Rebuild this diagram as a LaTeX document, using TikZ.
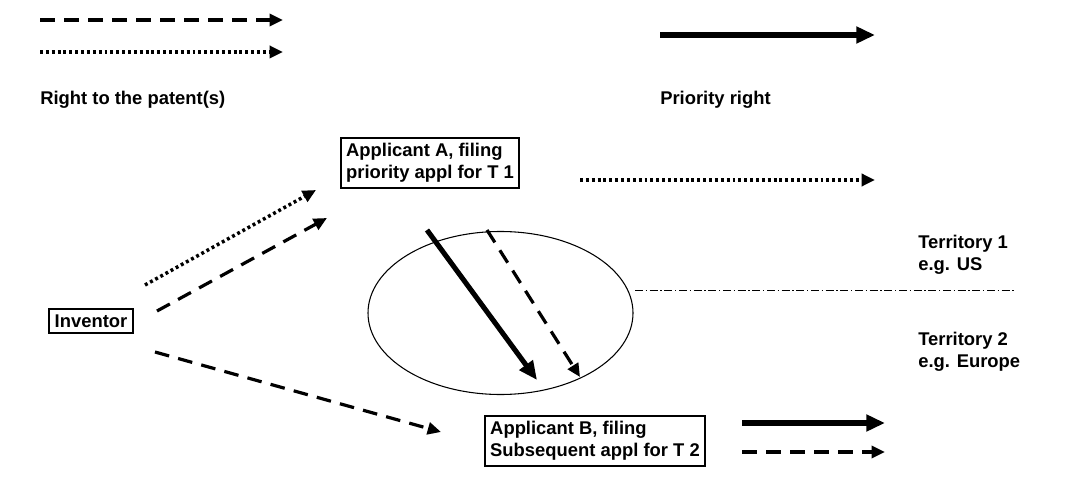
\documentclass[tikz,border=0pt]{standalone}
\usepackage{fontspec}
\setmainfont{Liberation Sans}
\usetikzlibrary{arrows.meta,shapes.geometric}
\begin{document}
\begin{tikzpicture}[x=0.75pt,y=-0.75pt,
  box/.style={draw,line width=1.6pt,align=left,font=\bfseries\fontsize{13.8}{16.5}\selectfont,inner sep=4pt},
  lbl/.style={font=\bfseries\fontsize{13.8}{16.5}\selectfont,align=left},
  dsh/.style={line width=2.4pt,dash pattern=on 11pt off 7pt,-{Triangle[length=10pt,width=9pt]}},
  dot/.style={line width=2.6pt,dash pattern=on 2.2pt off 2.2pt,-{Triangle[length=10pt,width=9pt]}},
  thick/.style={line width=3.8pt,-{Triangle[length=14pt,width=12pt]}}]
\useasboundingbox (0,0) rectangle (1080,495);
\coordinate (l1s) at (40,20); \coordinate (l1e) at (283,20);
\coordinate (l2s) at (40,52); \coordinate (l2e) at (283,52);
\coordinate (l3s) at (660,35); \coordinate (l3e) at (875,35);
\draw[dsh] (l1s) -- (l1e);
\draw[dot] (l2s) -- (l2e);
\draw[thick] (l3s) -- (l3e);
\node[lbl,anchor=west,inner sep=0] (rp) at (40,100) {Right to the patent(s)};
\node[lbl,anchor=west,inner sep=0] (pr) at (660,100) {Priority right};
\node[box] (A) at (430,163) {Applicant A, filing\\priority appl for T 1};
\node[box] (inv) at (91,321) {Inventor};
\node[box] (B) at (595,441) {Applicant B, filing\\Subsequent appl for T 2};
\node[draw,ellipse,line width=0.8pt,minimum width=265pt*0.75,minimum height=163pt*0.75,inner sep=0] (E) at (500.5,313) {};
\coordinate (t1s) at (427,230); \coordinate (t1e) at (537,380);
\coordinate (t2s) at (487,230); \coordinate (t2e) at (580,377);
\draw[thick] (t1s) -- (t1e);
\draw[dsh] (t2s) -- (t2e);
\coordinate (a1) at (145,285); \coordinate (a2) at (316,190);
\coordinate (b1) at (157,311); \coordinate (b2) at (327,218);
\coordinate (c1) at (155,352); \coordinate (c2) at (441,432);
\draw[dot] (a1) -- (a2);
\draw[dsh] (b1) -- (b2);
\draw[dsh] (c1) -- (c2);
\coordinate (d1) at (580,180); \coordinate (d2) at (875,180);
\draw[dot] (d1) -- (d2);
\coordinate (e1) at (635,290); \coordinate (e2) at (1015,290);
\draw[line width=0.6pt,dash pattern=on 6pt off 2pt on 1pt off 2pt] (e1) -- (e2);
\node[lbl,anchor=west,inner sep=0] (T1) at (918,255) {Territory 1\\e.g. US};
\node[lbl,anchor=west,inner sep=0] (T2) at (918,352) {Territory 2\\e.g. Europe};
\coordinate (f1) at (742,423); \coordinate (f2) at (885,423);
\coordinate (g1) at (742,452); \coordinate (g2) at (885,452);
\draw[thick] (f1) -- (f2);
\draw[dsh] (g1) -- (g2);
\end{tikzpicture}
\end{document}
